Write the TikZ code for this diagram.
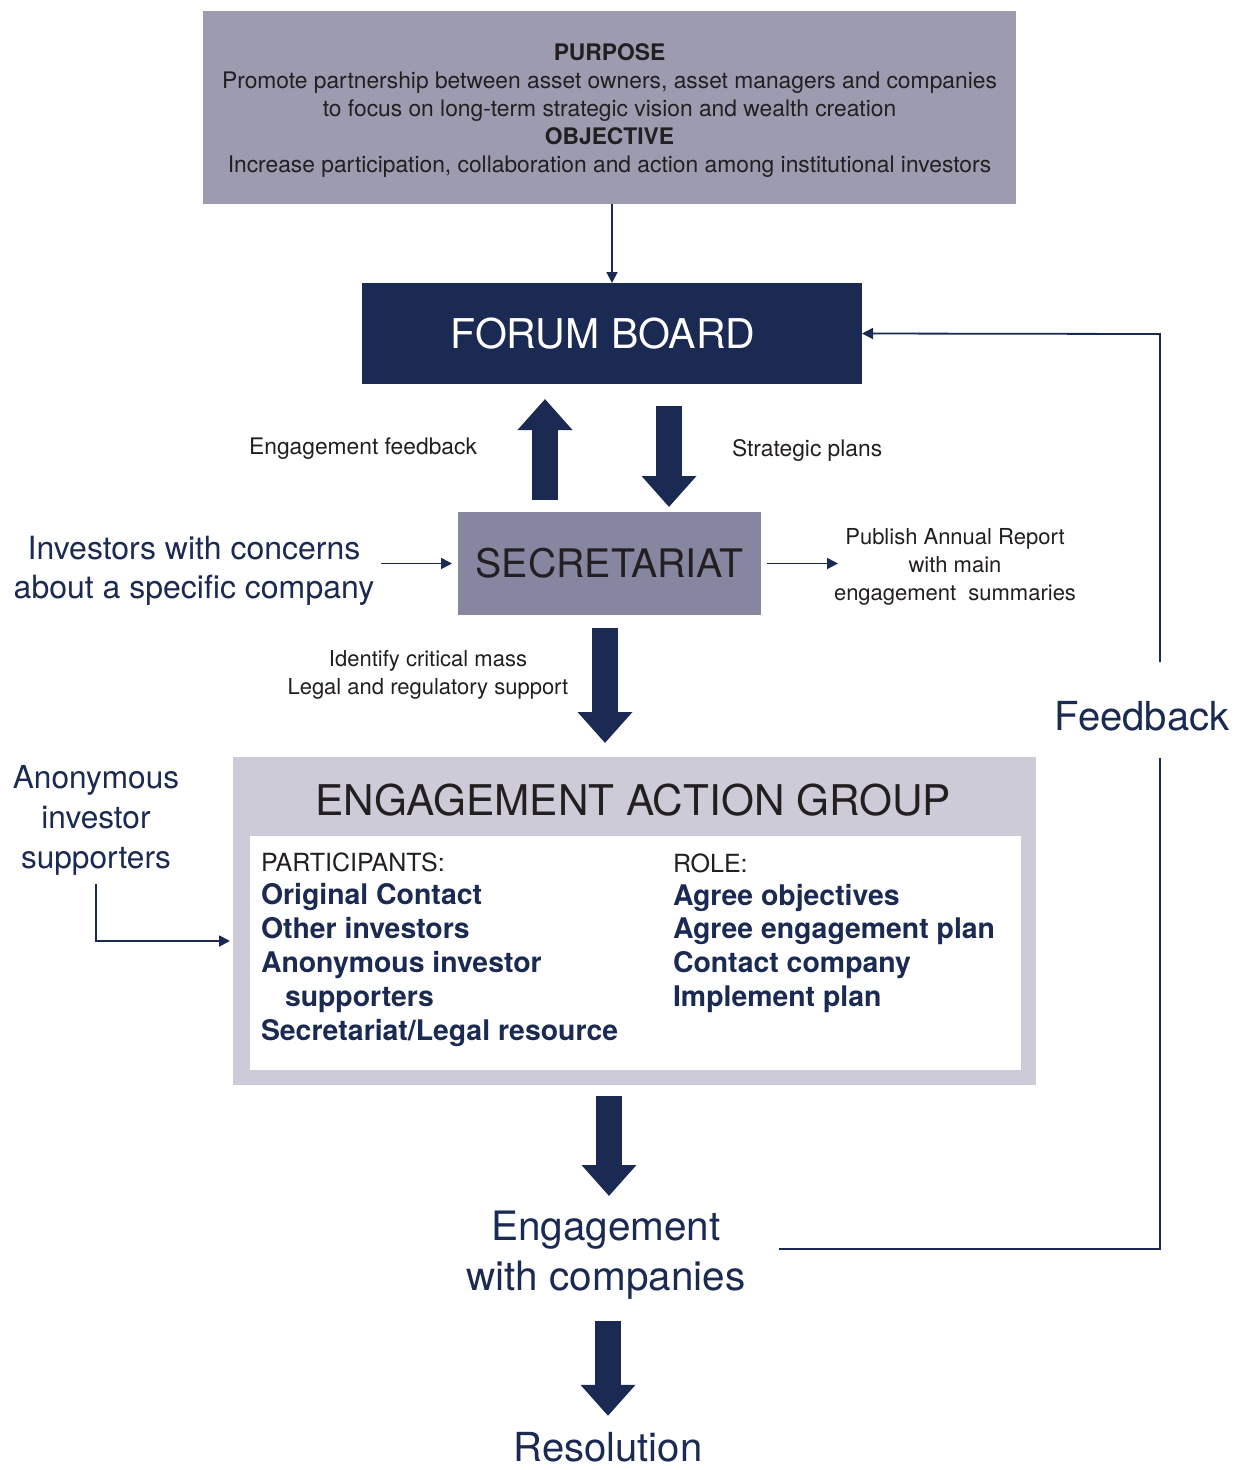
\documentclass[tikz,border=0pt]{standalone}
\usepackage{fontspec}
\setmainfont{TeX Gyre Heros}
\usetikzlibrary{arrows.meta}
\definecolor{navy}{HTML}{1B2A52}
\definecolor{purp}{HTML}{9C9BB0}
\definecolor{secg}{HTML}{8686A0}
\definecolor{eagg}{HTML}{CCCBD7}
\definecolor{ink}{HTML}{231F20}
\begin{document}
\begin{tikzpicture}[x=1pt,y=-1pt,
  box/.style={draw=none, inner sep=0pt, outer sep=0pt},
  lbl/.style={inner sep=0pt, outer sep=0pt, text=ink, align=center},
  nlbl/.style={inner sep=0pt, outer sep=0pt, text=navy, align=center},
  item/.style={inner sep=0pt, outer sep=0pt, anchor=base west, text=navy, font=\fontsize{28.4}{34}\bfseries\selectfont},
  head/.style={inner sep=0pt, outer sep=0pt, anchor=base west, text=ink, font=\fontsize{25}{34}\selectfont},
  thinarr/.style={navy, line width=1.8pt, -{Triangle[length=11pt,width=11pt]}},
  bigarr/.style={navy, line width=26pt, -{Triangle[length=31pt,width=53pt]}},
  fbline/.style={navy, line width=2.5pt}]
\useasboundingbox (0,0) rectangle (1235,1470);
\fill[white] (0,0) rectangle (1235,1470);

% Purpose box
\node[box, fill=purp, minimum width=813pt, minimum height=193pt] (purpose) at (609.5,107.5) {};
\node[lbl, font=\fontsize{22.8}{28}\selectfont] (purposetxt) at (609.5,111)
  {\textbf{PURPOSE}\\
   Promote partnership between asset owners, asset managers and companies\\
   to focus on long-term strategic vision and wealth creation\\
   \textbf{OBJECTIVE}\\
   Increase participation, collaboration and action among institutional investors};

% Forum board
\node[box, fill=navy, minimum width=500pt, minimum height=101pt, text=white,
      font=\fontsize{41}{48}\selectfont] (forum) at (612,333.5) {FORUM BOARD\hspace*{18pt}};

% Secretariat
\node[box, fill=secg, minimum width=303pt, minimum height=103pt, text=ink,
      font=\fontsize{39.3}{46}\selectfont] (sec) at (609.5,563.5) {SECRETARIAT};

% Engagement action group
\node[box, fill=eagg, minimum width=803pt, minimum height=328pt] (eag) at (634.5,921) {};
\node[box, fill=white, minimum width=771pt, minimum height=234pt] (inner) at (635.5,953) {};
\node[lbl, font=\fontsize{42.3}{50}\selectfont] (eagtitle) at (633,800) {ENGAGEMENT ACTION GROUP};

\node[head] (parthead) at (261,871) {PARTICIPANTS:};
\node[item] (p1) at (261,904) {Original Contact};
\node[item] (p2) at (261,938) {Other investors};
\node[item] (p3) at (261,972) {Anonymous investor};
\node[item] (p4) at (285,1006) {supporters};
\node[item] (p5) at (261,1040) {Secretariat/Legal resource};

\node[head] (rolehead) at (673,872) {ROLE:};
\node[item] (r1) at (673,905) {Agree objectives};
\node[item] (r2) at (673,938) {Agree engagement plan};
\node[item] (r3) at (673,972) {Contact company};
\node[item] (r4) at (673,1006) {Implement plan};

% Labels
\node[lbl, anchor=east, font=\fontsize{22.8}{28}\selectfont] (efb) at (477,449) {Engagement feedback};
\node[lbl, anchor=west, font=\fontsize{22.8}{28}\selectfont] (strat) at (732,450) {Strategic plans};
\node[nlbl, font=\fontsize{32}{39}\selectfont] (inv) at (194,571) {Investors with concerns\\about a specific company};
\node[lbl, font=\fontsize{22}{28}\selectfont] (pub) at (955,567) {Publish Annual Report\\with main\\engagement\ \ summaries};
\node[lbl, font=\fontsize{22}{28}\selectfont] (ident) at (428,675) {Identify critical mass\\Legal and regulatory support};
\node[nlbl, font=\fontsize{40}{48}\selectfont] (fb) at (1142,716) {Feedback};
\node[nlbl, font=\fontsize{31.6}{40}\selectfont] (anon) at (96,820) {Anonymous\\investor\\supporters};
\node[nlbl, anchor=north, font=\fontsize{40.5}{50}\selectfont] (eng) at (606,1211) {Engagement\\with companies};
\node[nlbl, anchor=base, font=\fontsize{40}{48}\selectfont] (res) at (608,1461) {Resolution};

% Thin connectors
\draw[thinarr] (purpose.south -| forum.north) -- (forum.north);
\draw[thinarr] ([xshift=-77pt]sec.west) -- ([xshift=-6pt]sec.west);
\draw[thinarr] ([xshift=6pt]sec.east) -- ([xshift=77pt]sec.east);
\coordinate (anonA) at (96,884);
\coordinate (anonB) at (96,941);
\draw[thinarr] (anonA) -- (anonB) -- ([xshift=-3pt,yshift=-20pt]eag.west);

% Feedback loop
\coordinate (fbA) at (779,1249);
\coordinate (fbB) at (1160,1249);
\coordinate (fbC) at (1160,758);
\coordinate (fbD) at (1160,662);
\coordinate (fbE) at (1160,334);
\draw[fbline] (fbA) -- (fbB) -- (fbC);
\draw[thinarr] (fbD) -- (fbE) -- (forum.east);

% Block arrows
\draw[bigarr] ([xshift=-64.5pt,yshift=12pt]sec.north) -- ([xshift=-67pt,yshift=-15pt]forum.south);
\draw[bigarr] ([xshift=57pt,yshift=-22pt]forum.south) -- ([xshift=59.5pt,yshift=5pt]sec.north);
\draw[bigarr] ([xshift=-4.5pt,yshift=-13pt]sec.south) -- ([xshift=-29.5pt,yshift=14pt]eag.north);
\draw[bigarr] ([xshift=-25.5pt,yshift=-11pt]eag.south) -- ([xshift=3pt,yshift=15pt]eng.north);
\draw[bigarr] ([xshift=2pt,yshift=-22pt]eng.south) -- ([xshift=0pt,yshift=16pt]res.north);
\end{tikzpicture}
\end{document}
